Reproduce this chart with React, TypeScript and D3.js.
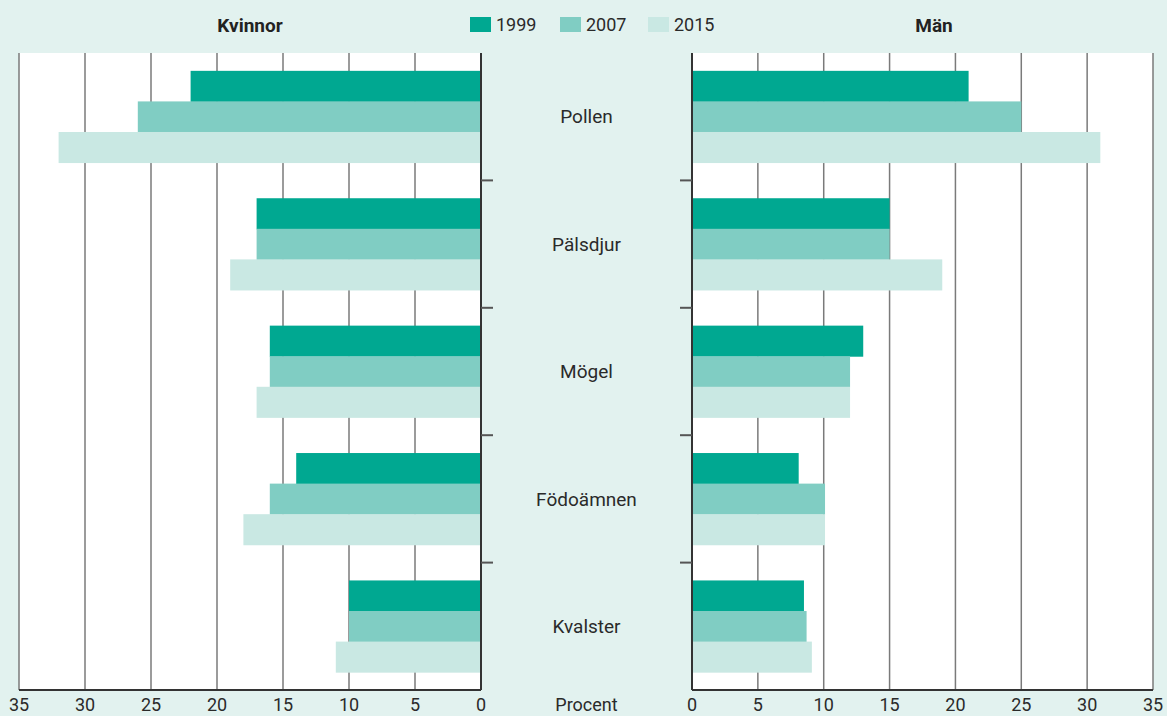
import React from "react";
import * as d3 from "d3";

const categories = ["Pollen", "Pälsdjur", "Mögel", "Födoämnen", "Kvalster"];
const years = ["1999", "2007", "2015"];
const kvinnor1999 = [22, 17, 16, 14, 10];
const kvinnor2007 = [26, 17, 16, 16, 10];
const kvinnor2015 = [32, 19, 17, 18, 11];
const man1999 = [21, 15, 13, 8.1, 8.5];
const man2007 = [25, 15, 12, 10.1, 8.7];
const man2015 = [31, 19, 12, 10.1, 9.1];
const tickValues = [0, 5, 10, 15, 20, 25, 30, 35];
const colors = ["#00a891", "#80cdc3", "#c9e8e3"];

const W = 1167;
const H = 716;
const TOP = 53;
const BOTTOM = 690;
const FONT = "Roboto, 'Open Sans', sans-serif";

export default function App() {
  const xLeft = d3.scaleLinear().domain([0, 35]).range([481, 19]);
  const xRight = d3.scaleLinear().domain([0, 35]).range([692, 1153]);
  const y = d3
    .scaleBand<string>()
    .domain(categories)
    .range([TOP, BOTTOM])
    .paddingInner(0.28)
    .paddingOuter(0.14);
  const yIn = d3.scaleBand<string>().domain(years).range([0, y.bandwidth()]);
  const step = y.step();

  const leftSeries = [kvinnor1999, kvinnor2007, kvinnor2015];
  const rightSeries = [man1999, man2007, man2015];

  const boundaries = d3.range(1, categories.length).map((i) => TOP + i * step);

  return (
    <svg
      width={W}
      height={H}
      style={{ position: "absolute", left: 0, top: 0, fontFamily: FONT }}
    >
      <rect x={0} y={0} width={W} height={H} fill="#e2f2ef" />
      <rect x={xLeft(35)} y={TOP} width={xLeft(0) - xLeft(35)} height={BOTTOM - TOP} fill="#ffffff" />
      <rect x={xRight(0)} y={TOP} width={xRight(35) - xRight(0)} height={BOTTOM - TOP} fill="#ffffff" />
      {tickValues.filter((t) => t > 0).map((t) => (
        <g key={"g" + t}>
          <line x1={xLeft(t)} x2={xLeft(t)} y1={TOP} y2={BOTTOM} stroke="#7a7a7a" strokeWidth={1.5} />
          <line x1={xRight(t)} x2={xRight(t)} y1={TOP} y2={BOTTOM} stroke="#7a7a7a" strokeWidth={1.5} />
        </g>
      ))}
      {categories.map((c, i) => (
        <g key={c}>
          {years.map((yr, j) => (
            <g key={yr}>
              <rect
                x={xLeft(leftSeries[j][i])}
                y={(y(c) as number) + (yIn(yr) as number)}
                width={xLeft(0) - xLeft(leftSeries[j][i])}
                height={yIn.bandwidth() + 0.5}
                fill={colors[j]}
              />
              <rect
                x={xRight(0)}
                y={(y(c) as number) + (yIn(yr) as number)}
                width={xRight(rightSeries[j][i]) - xRight(0)}
                height={yIn.bandwidth() + 0.5}
                fill={colors[j]}
              />
            </g>
          ))}
          <text
            x={(xLeft(0) + xRight(0)) / 2}
            y={(y(c) as number) + y.bandwidth() / 2}
            dy="0.35em"
            textAnchor="middle"
            fontSize={19}
            fill="#2a2a2a"
          >
            {c}
          </text>
        </g>
      ))}
      <line x1={xLeft(0)} x2={xLeft(0)} y1={TOP} y2={BOTTOM} stroke="#333" strokeWidth={2} />
      <line x1={xRight(0)} x2={xRight(0)} y1={TOP} y2={BOTTOM} stroke="#333" strokeWidth={2} />
      <line x1={xLeft(35)} x2={xLeft(0)} y1={BOTTOM} y2={BOTTOM} stroke="#333" strokeWidth={2} />
      <line x1={xRight(0)} x2={xRight(35)} y1={BOTTOM} y2={BOTTOM} stroke="#333" strokeWidth={2} />
      {boundaries.map((b, i) => (
        <g key={"b" + i}>
          <line x1={xLeft(0)} x2={xLeft(0) + 12} y1={b} y2={b} stroke="#555" strokeWidth={2} />
          <line x1={xRight(0) - 12} x2={xRight(0)} y1={b} y2={b} stroke="#555" strokeWidth={2} />
        </g>
      ))}
      {tickValues.map((t) => (
        <g key={"t" + t}>
          <text x={xLeft(t)} y={705} dy="0.35em" textAnchor="middle" fontSize={18} fill="#2a2a2a">
            {t}
          </text>
          <text x={xRight(t)} y={705} dy="0.35em" textAnchor="middle" fontSize={18} fill="#2a2a2a">
            {t}
          </text>
        </g>
      ))}
      <text x={(xLeft(0) + xRight(0)) / 2} y={705} dy="0.35em" textAnchor="middle" fontSize={18} fill="#2a2a2a">
        Procent
      </text>
      <text x={250} y={25} dy="0.35em" textAnchor="middle" fontSize={19} fontWeight="bold" fill="#222">
        Kvinnor
      </text>
      <text x={934} y={25} dy="0.35em" textAnchor="middle" fontSize={19} fontWeight="bold" fill="#222">
        Män
      </text>
      {years.map((yr, j) => {
        const lx = [470, 560, 648][j];
        return (
          <g key={"l" + yr}>
            <rect x={lx} y={17} width={21} height={15} fill={colors[j]} />
            <text x={lx + 26} y={25} dy="0.35em" fontSize={18} fill="#2a2a2a">
              {yr}
            </text>
          </g>
        );
      })}
    </svg>
  );
}
